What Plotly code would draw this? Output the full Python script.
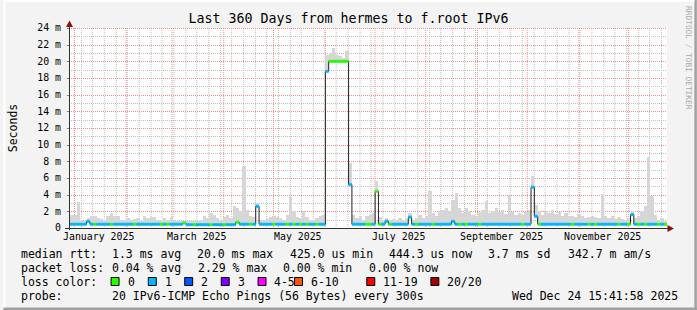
import pandas as pd
import plotly.graph_objects as go

# ---------------- data ----------------
TITLE = "Last 360 Days from hermes to f.root IPv6"
START = "2024-12-29 15:41:58"
END = "2025-12-24 15:41:58"
STEP = "2D"

# median round-trip time per 2-day step (ms)
MEDIAN_MS = [
    0.45, 0.45, 0.45, 0.45, 0.45, 0.8, 0.45, 0.45, 0.45, 0.45, 0.45, 0.45, 0.45, 0.45, 0.45, 0.45, 0.45, 0.45, 0.45, 0.45,
    0.45, 0.45, 0.45, 0.45, 0.45, 0.45, 0.45, 0.45, 0.45, 0.45, 0.45, 0.45, 0.45, 0.45, 0.6, 0.4, 0.4, 0.4, 0.4, 0.4,
    0.4, 0.4, 0.4, 0.4, 0.4, 0.4, 0.4, 0.4, 0.4, 0.4, 0.7, 0.45, 0.45, 0.45, 0.45, 0.45, 2.6, 0.45, 0.45, 0.45,
    0.45, 0.45, 0.45, 0.45, 0.45, 0.45, 0.45, 0.45, 0.45, 0.45, 0.45, 0.45, 0.45, 0.45, 0.45, 0.45, 0.45, 18.8, 20.0, 20.0,
    20.0, 20.0, 20.0, 20.0, 5.2, 0.45, 0.45, 0.45, 0.45, 0.45, 0.45, 0.45, 4.4, 0.45, 0.45, 0.8, 0.45, 0.45, 0.45, 0.45,
    0.45, 0.45, 1.3, 0.45, 0.45, 0.45, 0.45, 0.45, 0.45, 0.45, 0.45, 0.45, 0.45, 0.45, 0.45, 0.8, 0.45, 0.45, 0.45, 0.45,
    0.45, 0.45, 0.45, 0.45, 0.45, 0.45, 0.45, 0.45, 0.45, 0.45, 0.45, 0.45, 0.45, 0.45, 0.45, 0.45, 0.45, 0.45, 0.45, 4.9,
    1.4, 0.45, 0.45, 0.45, 0.45, 0.45, 0.45, 0.45, 0.45, 0.45, 0.45, 0.45, 0.45, 0.45, 0.45, 0.45, 0.45, 0.45, 0.45, 0.45,
    0.45, 0.45, 0.45, 0.45, 0.45, 0.45, 0.45, 0.45, 0.45, 1.6, 0.45, 0.45, 0.45, 0.45, 0.45, 0.45, 0.45, 0.45, 0.45, 0.45,
]

# top of the smoke (slowest ping) per step (ms)
SMOKE_MAX_MS = [
    1.6, 1.6, 3.1, 1.0, 0.9, 1.2, 1.5, 1.4, 1.2, 1.1, 1.0, 1.4, 1.8, 1.5, 1.4, 1.0, 1.0, 1.2, 1.0, 1.1,
    1.2, 0.9, 1.4, 1.2, 1.3, 1.3, 1.0, 1.0, 1.2, 1.0, 1.3, 0.9, 0.8, 0.9, 0.9, 0.8, 0.8, 0.9, 0.8, 1.0,
    1.5, 1.2, 1.8, 1.6, 1.2, 1.0, 1.3, 1.6, 1.2, 2.6, 2.4, 2.0, 7.4, 2.2, 1.4, 1.3, 3.0, 1.0, 1.0, 1.1,
    1.3, 1.5, 1.3, 1.2, 1.0, 1.6, 3.7, 2.0, 1.3, 1.2, 2.0, 1.3, 1.0, 1.0, 1.2, 1.4, 1.6, 20.8, 21.0, 21.6,
    20.8, 20.6, 20.4, 21.2, 7.8, 1.6, 1.2, 1.4, 1.0, 1.4, 1.6, 1.8, 5.6, 1.3, 1.0, 1.2, 1.0, 1.1, 1.0, 1.2,
    1.0, 1.1, 1.8, 1.0, 1.2, 1.6, 1.2, 1.5, 4.4, 1.8, 1.4, 2.0, 2.2, 2.4, 2.0, 3.4, 4.2, 2.4, 1.8, 2.4,
    2.0, 1.6, 1.5, 1.9, 2.2, 3.2, 1.8, 2.1, 2.4, 1.9, 2.2, 1.7, 4.0, 1.9, 1.6, 1.8, 1.6, 1.9, 2.2, 6.2,
    2.8, 2.0, 1.6, 2.0, 1.8, 2.2, 1.7, 1.9, 1.5, 1.8, 1.4, 1.5, 1.3, 1.7, 1.4, 1.2, 1.3, 1.5, 1.3, 1.2,
    4.1, 1.5, 1.2, 1.4, 1.1, 1.3, 1.1, 1.0, 1.2, 2.0, 1.2, 1.5, 2.0, 2.6, 8.5, 3.8, 1.6, 1.0, 1.2, 0.9,
]

# loss class per step (index into LOSS_LABELS)
LOSS_CLASS = [
    1, 1, 1, 1, 1, 1, 1, 0, 1, 1, 1, 1, 0, 1, 1, 1, 1, 1, 1, 0,
    1, 1, 1, 1, 1, 1, 1, 0, 1, 0, 1, 1, 1, 1, 0, 1, 1, 0, 1, 1,
    1, 1, 0, 1, 1, 1, 0, 1, 1, 1, 0, 1, 1, 1, 0, 1, 1, 1, 1, 1,
    1, 0, 1, 1, 1, 0, 1, 0, 1, 0, 1, 0, 1, 1, 0, 1, 1, 1, 0, 0,
    0, 0, 0, 0, 1, 1, 1, 1, 1, 0, 0, 1, 0, 0, 1, 1, 0, 1, 1, 1,
    1, 1, 1, 1, 0, 1, 1, 1, 1, 0, 1, 1, 1, 1, 1, 1, 1, 0, 1, 0,
    1, 1, 1, 0, 1, 1, 1, 1, 1, 1, 1, 1, 1, 1, 1, 1, 0, 1, 1, 1,
    1, 0, 1, 1, 1, 1, 1, 1, 1, 1, 1, 0, 1, 1, 1, 1, 0, 1, 0, 1,
    1, 1, 1, 1, 1, 0, 1, 1, 0, 1, 1, 0, 1, 0, 1, 1, 1, 0, 1, 0,
]

LOSS_LABELS = ["0", "1", "2", "3", "4-5", "6-10", "11-19", "20/20"]
LOSS_COLORS = ["#26ff00", "#00b8ff", "#0059ff", "#7e00ff", "#ff00ff", "#ff5500", "#ff0000", "#a10000"]

Y_MAX = 24
Y_TICKS = [0, 2, 4, 6, 8, 10, 12, 14, 16, 18, 20, 22, 24]
Y_TICK_TEXT = ["0", "2 m", "4 m", "6 m", "8 m", "10 m", "12 m", "14 m", "16 m", "18 m", "20 m", "22 m", "24 m"]
Y_MINOR = [1, 3, 5, 7, 9, 11, 13, 15, 17, 19, 21, 23]
MONTH_LABEL_DATES = ["2025-01-01", "2025-03-01", "2025-05-01", "2025-07-01", "2025-09-01", "2025-11-01"]
MONTH_LABELS = ["January 2025", "March 2025", "May 2025", "July 2025", "September 2025", "November 2025"]

RTT_STATS = ["1.3 ms avg", "20.0 ms max", "425.0 us min", "444.3 us now", "3.7 ms sd", "342.7 m am/s"]
LOSS_STATS = ["0.04 % avg", "2.29 % max", "0.00 % min", "0.00 % now"]
PROBE = "20 IPv6-ICMP Echo Pings (56 Bytes) every 300s"
STAMP = "Wed Dec 24 15:41:58 2025"
WATERMARK = "RRDTOOL / TOBI OETIKER"

# ---------------- layout constants (pixels) ----------------
W, H = 697, 310
L, R, T, B = 67, 667, 28, 228
FONT = "DejaVu Sans Mono"
FS = 11.5      # legend / axis title
FS_AX = 9.9    # tick labels
RTT_X = [107, 192.7, 286, 386, 485.3, 565.3]
LOSS_X = [107, 193.3, 279.3, 365.3]
BOX_X = [108.3, 145.7, 182.3, 219, 256, 292.7, 365.3, 429.7]
ROWS_Y = [253.5, 267.5, 281.5, 295.5]
MAJOR_GRID = "rgb(240,140,140)"
MINOR_GRID = "rgb(190,190,190)"
DOT = "1px,1px"


def px(x):
    return (x - L) / (R - L)


def py(y):
    return (B - y) / (B - T)


t0, t1 = pd.Timestamp(START), pd.Timestamp(END)


def col(t):
    return L + round((pd.Timestamp(t) - t0) / (t1 - t0) * (R - L))


def row(v):
    return B - round(v * (B - T) / Y_MAX)


times = pd.date_range(START, periods=len(MEDIAN_MS) + 1, freq=STEP)
step = times[1] - times[0]
centers = times[:-1] + step / 2

fig = go.Figure()

# smoke
fig.add_trace(go.Bar(
    x=centers, base=MEDIAN_MS, y=[s - m for s, m in zip(SMOKE_MAX_MS, MEDIAN_MS)],
    width=step.total_seconds() * 1000, marker=dict(color="#d6d6d6", line=dict(width=0)),
    hoverinfo="skip",
))

# thin dark median line
fig.add_trace(go.Scatter(
    x=list(times), y=MEDIAN_MS + [MEDIAN_MS[-1]], mode="lines",
    line=dict(color="#202020", width=1, shape="hv"), hoverinfo="skip",
))

# loss-coloured median segments
for c, color in enumerate(LOSS_COLORS):
    xs, ys = [], []
    for i, (m, lc) in enumerate(zip(MEDIAN_MS, LOSS_CLASS)):
        if lc == c:
            xs += [times[i], times[i + 1], None]
            ys += [m, m, None]
    if xs:
        fig.add_trace(go.Scatter(x=xs, y=ys, mode="lines", line=dict(color=color, width=3),
                                 connectgaps=False, hoverinfo="skip"))

fig.update_layout(
    width=W, height=H,
    margin=dict(l=L, r=W - R, t=T, b=H - B, pad=0),
    paper_bgcolor="#f3f3f3", plot_bgcolor="#ffffff",
    font=dict(family=FONT, size=FS, color="#000000"),
    showlegend=False, bargap=0, barmode="overlay",
    title=dict(text=TITLE, x=0.5, xref="container", xanchor="center",
               y=1 - 18 / H, yref="container", yanchor="middle",
               font=dict(family=FONT, size=13.3, color="#000000")),
)
fig.update_xaxes(type="date", range=[START, END], showline=False, zeroline=False,
                 showgrid=False, ticks="", showticklabels=False)
fig.update_yaxes(
    range=[0, Y_MAX], tickmode="array", tickvals=Y_TICKS, ticktext=Y_TICK_TEXT,
    showline=False, zeroline=False, showgrid=False, ticks="", ticklabelstandoff=8,
    title=dict(text="Seconds", standoff=17, font=dict(family=FONT, size=FS)),
    tickfont=dict(family=FONT, size=FS_AX),
)

shapes = []


def hline(y_pix, x0_pix, x1_pix, color, dash=None, layer="below"):
    shapes.append(dict(type="line", xref="paper", yref="paper", layer=layer,
                       x0=px(x0_pix), x1=px(x1_pix), y0=py(y_pix), y1=py(y_pix),
                       line=dict(color=color, width=1, dash=dash) if dash else dict(color=color, width=1)))


def vline(x_pix, y0_pix, y1_pix, color, dash=None, layer="below"):
    shapes.append(dict(type="line", xref="paper", yref="paper", layer=layer,
                       x0=px(x_pix), x1=px(x_pix), y0=py(y0_pix), y1=py(y1_pix),
                       line=dict(color=color, width=1, dash=dash) if dash else dict(color=color, width=1)))


# grid (pixel aligned, dotted like rrdtool)
week_lines = pd.date_range("2025-01-05", END, freq="7D")
month_lines = pd.date_range("2025-01-01", END, freq="MS")
for t in week_lines:
    vline(col(t) + 0.5, T, B, MINOR_GRID, DOT)
for v in Y_MINOR:
    hline(row(v) + 0.5, L + 1, R, MINOR_GRID, DOT)
for t in month_lines:
    vline(col(t) + 0.5, T, B + 2, MAJOR_GRID, DOT)
for v in Y_TICKS[1:]:
    hline(row(v) + 0.5, L + 1, R, MAJOR_GRID, DOT)
    hline(row(v) + 0.5, L - 3, L, "#808080")

# axis lines + arrows
vline(66.5, 230, 24, "#303030", layer="above")
hline(228.5, 62, 669, "#303030", layer="above")
shapes.append(dict(type="path", xref="paper", yref="paper",
                   path=f"M {px(66.5)} {py(20.5)} L {px(63)} {py(27)} L {px(70)} {py(27)} Z",
                   fillcolor="#8b1010", line=dict(width=0)))
shapes.append(dict(type="path", xref="paper", yref="paper",
                   path=f"M {px(674)} {py(228.5)} L {px(667.5)} {py(225)} L {px(667.5)} {py(232)} Z",
                   fillcolor="#8b1010", line=dict(width=0)))
# 3D frame
shapes.append(dict(type="rect", xref="paper", yref="paper", x0=px(694.5), x1=px(697), y0=py(0), y1=py(310),
                   fillcolor="#a0a0a0", line=dict(width=0)))
shapes.append(dict(type="rect", xref="paper", yref="paper", x0=px(0), x1=px(697), y0=py(307.5), y1=py(310),
                   fillcolor="#a0a0a0", line=dict(width=0)))
shapes.append(dict(type="rect", xref="paper", yref="paper", x0=px(0), x1=px(694.5), y0=py(0), y1=py(2),
                   fillcolor="#ffffff", line=dict(width=0)))
shapes.append(dict(type="rect", xref="paper", yref="paper", x0=px(0), x1=px(2), y0=py(0), y1=py(307.5),
                   fillcolor="#ffffff", line=dict(width=0)))
# loss colour swatches
for bx, color in zip(BOX_X, LOSS_COLORS):
    shapes.append(dict(type="rect", xref="paper", yref="paper", x0=px(bx), x1=px(bx + 8),
                       y0=py(ROWS_Y[2] + 4), y1=py(ROWS_Y[2] - 4),
                       fillcolor=color, line=dict(color="#000000", width=1)))
fig.update_layout(shapes=shapes)

ann = []


def text(x, y, s, anchor="left", size=FS, color="#000000", **kw):
    ann.append(dict(x=px(x), y=py(y), xref="paper", yref="paper", text=s, showarrow=False,
                    xanchor=anchor, yanchor="middle",
                    font=dict(family=FONT, size=size, color=color), **kw))


for d, lab in zip(MONTH_LABEL_DATES, MONTH_LABELS):
    ann.append(dict(x=pd.Timestamp(d) + pd.Timedelta(days=15), y=py(236.5), xref="x", yref="paper",
                    text=lab, showarrow=False, xanchor="center", yanchor="middle",
                    font=dict(family=FONT, size=FS_AX, color="#000000")))

text(16, ROWS_Y[0], "median rtt:")
for x, s in zip(RTT_X, RTT_STATS):
    text(x, ROWS_Y[0], s)
text(16, ROWS_Y[1], "packet loss:")
for x, s in zip(LOSS_X, LOSS_STATS):
    text(x, ROWS_Y[1], s)
text(16, ROWS_Y[2], "loss color:")
for bx, lab in zip(BOX_X, LOSS_LABELS):
    text(bx + 14.5, ROWS_Y[2], lab)
text(16, ROWS_Y[3], "probe:")
text(107, ROWS_Y[3], PROBE)
text(680.5, ROWS_Y[3], STAMP, anchor="right")
ann.append(dict(x=px(688), y=py(4), xref="paper", yref="paper", text=WATERMARK, showarrow=False,
                xanchor="center", yanchor="top", textangle=90,
                font=dict(family=FONT, size=7.8, color="#a8a8a8")))
fig.update_layout(annotations=ann)

fig.write_html("out.html")
